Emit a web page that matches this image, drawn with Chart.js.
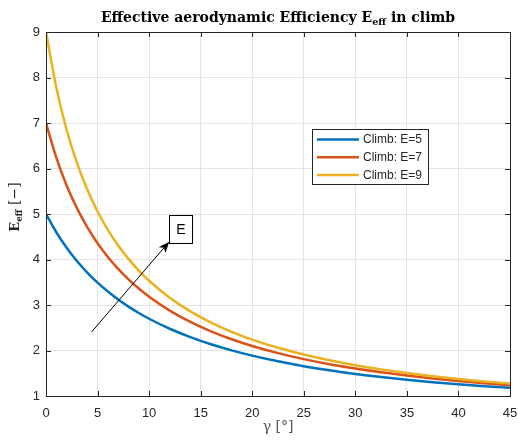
<!DOCTYPE html>
<html><head><meta charset="utf-8">
<script src="https://cdn.jsdelivr.net/npm/chart.js@4.4.0/dist/chart.umd.min.js"></script>
<style>html,body{margin:0;padding:0;background:#fff;}#wrap{width:518px;height:441px;}</style>
</head><body><div id="wrap"><canvas id="c" width="518" height="441"></canvas></div>
<script>
const gammaDeg = [0,1,2,3,4,5,6,7,8,9,10,12,14,16,18,20,22.5,25,27.5,30,32.5,35,37.5,40,42.5,45];
const climbE5 = [5.000,4.599,4.259,3.967,3.714,3.492,3.296,3.121,2.965,2.825,2.698,2.478,2.294,2.137,2.003,1.887,1.762,1.656,1.565,1.485,1.416,1.356,1.303,1.256,1.215,1.179];
const climbE7 = [7.000,6.239,5.628,5.128,4.711,4.358,4.055,3.793,3.563,3.361,3.181,2.876,2.628,2.422,2.248,2.100,1.943,1.811,1.699,1.603,1.520,1.448,1.385,1.329,1.281,1.237];
const climbE9 = [9.000,7.779,6.852,6.124,5.537,5.054,4.651,4.307,4.013,3.757,3.533,3.159,2.859,2.615,2.411,2.240,2.060,1.911,1.785,1.677,1.585,1.505,1.435,1.374,1.320,1.273];
const seriesLabels = ['Climb: E=5','Climb: E=7','Climb: E=9'];
const xTicks = [0,5,10,15,20,25,30,35,40,45];
const yTicks = [1,2,3,4,5,6,7,8,9];
const arrowFrom = {x:4.43, y:2.41};
const arrowTo = {x:11.95, y:4.39};
const annotText = 'E';

const colors = ['#0072BD','#D95319','#EDB120'];
const seriesVals = [climbE5, climbE7, climbE9];
const axisCol = '#262626';

const decor = {
  id:'decor',
  afterDraw(chart){
    const ctx = chart.ctx, a = chart.chartArea, xs = chart.scales.x, ys = chart.scales.y;
    ctx.save();
    ctx.strokeStyle = axisCol; ctx.lineWidth = 1;
    ctx.strokeRect(Math.round(a.left)+0.5, Math.round(a.top)+0.5, Math.round(a.right-a.left), Math.round(a.bottom-a.top));
    ctx.beginPath();
    xTicks.forEach(v=>{const p=Math.round(xs.getPixelForValue(v))+0.5;
      ctx.moveTo(p,a.bottom); ctx.lineTo(p,a.bottom-5);
      ctx.moveTo(p,a.top); ctx.lineTo(p,a.top+5);});
    yTicks.forEach(v=>{const p=Math.round(ys.getPixelForValue(v))+0.5;
      ctx.moveTo(a.left,p); ctx.lineTo(a.left+5,p);
      ctx.moveTo(a.right,p); ctx.lineTo(a.right-5,p);});
    ctx.stroke();

    // title
    const cx = (a.left+a.right)/2;
    const f1 = 'bold 14px "DejaVu Serif"', f2 = 'bold 9.5px "DejaVu Serif"';
    const t1 = 'Effective aerodynamic Efficiency E', t2='eff', t3=' in climb';
    ctx.font=f1; const w1=ctx.measureText(t1).width, w3=ctx.measureText(t3).width;
    ctx.font=f2; const w2=ctx.measureText(t2).width;
    let x0 = cx-(w1+w2+w3)/2; const by=22;
    ctx.fillStyle='#000'; ctx.textBaseline='alphabetic'; ctx.textAlign='left';
    ctx.font=f1; ctx.fillText(t1,x0,by); x0+=w1;
    ctx.font=f2; ctx.fillText(t2,x0,by+2.5); x0+=w2;
    ctx.font=f1; ctx.fillText(t3,x0,by);

    // x label
    ctx.fillStyle='#555'; ctx.font='14px "DejaVu Serif"'; ctx.textAlign='center';
    ctx.fillText('\u03B3 [\u00B0]', cx, 431);

    // y label
    ctx.save();
    ctx.translate(19, 207); ctx.rotate(-Math.PI/2);
    ctx.fillStyle=axisCol; ctx.textAlign='left';
    const g1='bold 13px "DejaVu Serif"', g2='bold 8.5px "DejaVu Serif"', g3='14px "DejaVu Serif"';
    ctx.font=g1; const e1=ctx.measureText('E').width;
    ctx.font=g2; const e2=ctx.measureText('eff').width;
    ctx.font=g3; const e3=ctx.measureText(' [\u2212]').width;
    let yx=-(e1+e2+e3)/2;
    ctx.font=g1; ctx.fillText('E',yx,0); yx+=e1;
    ctx.font=g2; ctx.fillText('eff',yx,2.5); yx+=e2;
    ctx.font=g3; ctx.fillText(' [\u2212]',yx,0);
    ctx.restore();

    // legend
    const lx=312.5, ly=129.5, lw=116, lh=55;
    ctx.fillStyle='#fff'; ctx.fillRect(lx,ly,lw,lh);
    ctx.strokeStyle=axisCol; ctx.lineWidth=1; ctx.strokeRect(lx,ly,lw,lh);
    ctx.font='12px "Liberation Sans"'; ctx.textAlign='left'; ctx.textBaseline='middle';
    seriesLabels.forEach((s,i)=>{
      const yy=139.5+i*17.7;
      ctx.strokeStyle=colors[i]; ctx.lineWidth=2.5;
      ctx.beginPath(); ctx.moveTo(317,yy); ctx.lineTo(359,yy); ctx.stroke();
      ctx.fillStyle=axisCol; ctx.fillText(s,363,yy+0.5);
    });

    // arrow
    const ax1=xs.getPixelForValue(arrowFrom.x), ay1=ys.getPixelForValue(arrowFrom.y);
    const ax2=xs.getPixelForValue(arrowTo.x), ay2=ys.getPixelForValue(arrowTo.y);
    const ang=Math.atan2(ay2-ay1, ax2-ax1);
    ctx.strokeStyle='#000'; ctx.lineWidth=1;
    ctx.beginPath(); ctx.moveTo(ax1,ay1); ctx.lineTo(ax2-8*Math.cos(ang),ay2-8*Math.sin(ang)); ctx.stroke();
    ctx.fillStyle='#000'; ctx.beginPath();
    ctx.moveTo(ax2,ay2);
    ctx.lineTo(ax2-11*Math.cos(ang)+4.5*Math.sin(ang), ay2-11*Math.sin(ang)-4.5*Math.cos(ang));
    ctx.lineTo(ax2-8*Math.cos(ang), ay2-8*Math.sin(ang));
    ctx.lineTo(ax2-11*Math.cos(ang)-4.5*Math.sin(ang), ay2-11*Math.sin(ang)+4.5*Math.cos(ang));
    ctx.closePath(); ctx.fill();
    ctx.fillStyle='#fff'; ctx.fillRect(169.5,215.5,23,28);
    ctx.strokeStyle='#000'; ctx.strokeRect(169.5,215.5,23,28);
    ctx.fillStyle='#000'; ctx.font='14px "Liberation Sans"'; ctx.textAlign='center'; ctx.textBaseline='middle';
    ctx.fillText(annotText,181,230);
    ctx.restore();
  }
};

new Chart(document.getElementById('c'), {
  type:'line',
  data:{datasets: seriesVals.map((vals,i)=>({
    label: seriesLabels[i],
    data: gammaDeg.map((g,j)=>({x:g,y:vals[j]})),
    borderColor: colors[i], borderWidth:2.5, pointRadius:0,
    cubicInterpolationMode:'monotone', fill:false, order: 2-i
  }))},
  options:{
    responsive:false, animation:false, devicePixelRatio:1,
    layout:{padding:{top:32,right:8,left:0,bottom:0}},
    plugins:{legend:{display:false}, tooltip:{enabled:false}, title:{display:false}},
    scales:{
      x:{type:'linear', min:0, max:45,
        afterBuildTicks(s){s.ticks=xTicks.map(v=>({value:v}));},
        afterFit(s){s.height=45; s.paddingLeft=0; s.paddingRight=0;},
        grid:{color:'#e3e3e3', drawTicks:false, lineWidth:1},
        border:{display:false},
        ticks:{color:axisCol, font:{family:'"Liberation Sans"', size:13}, padding:10, maxRotation:0}},
      y:{type:'linear', min:1, max:9,
        afterBuildTicks(s){s.ticks=yTicks.map(v=>({value:v}));},
        afterFit(s){s.width=46; s.paddingTop=0; s.paddingBottom=0;},
        grid:{color:'#e3e3e3', drawTicks:false, lineWidth:1},
        border:{display:false},
        ticks:{color:axisCol, font:{family:'"Liberation Sans"', size:13}, padding:6}}
    }
  },
  plugins:[decor]
});
</script></body></html>
